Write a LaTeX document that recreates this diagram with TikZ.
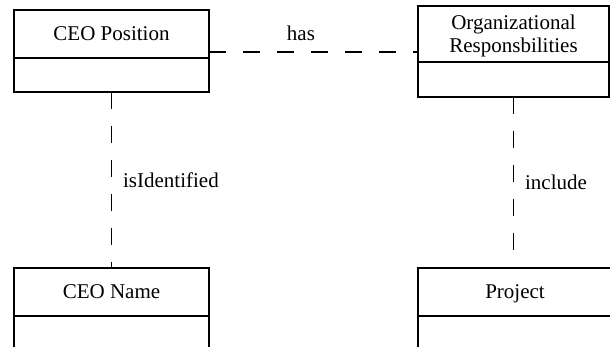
\documentclass[tikz,border=0pt]{standalone}
\usepackage{fontspec}
\setmainfont{Liberation Serif}
\usetikzlibrary{shapes,arrows,positioning}

\begin{document}
\begin{tikzpicture}[x=1pt, y=1pt, line width=1.2pt,
    font=\rmfamily\fontsize{21}{23}\selectfont,
    head/.style={draw, rectangle, minimum width=195pt, minimum height=48pt,
        inner sep=0pt, outer sep=0pt, text depth=0pt, align=center},
    body/.style={draw, rectangle, minimum width=195pt, inner sep=0pt, outer sep=0pt},
    link/.style={dash pattern=on 17pt off 17pt}]
    \useasboundingbox (0,0) rectangle (610,347);
    \clip (0,0) rectangle (610,347);
    \node[head] (A) at (111.5,313) {CEO Position};
    \node[body, minimum height=34pt] (A1) [below=0pt of A] {};
    \node[head, minimum width=191pt, minimum height=56pt] (B) at (513.5,313) {Organizational\\Responsbilities};
    \node[body, minimum width=191pt, minimum height=35pt] (B1) [below=0pt of B] {};
    \node[head] (C) at (111.5,55) {CEO Name};
    \node[body, minimum height=48pt] (C1) [below=0pt of C] {};
    \node[head, minimum width=194pt] (D) at (515,55) {Project};
    \node[body, minimum width=194pt, minimum height=48pt] (D1) [below=0pt of D] {};
    \coordinate (h) at ([yshift=-18pt]A.east);
    \path[link] (h) edge node[above=9pt, pos=0.44, inner sep=2pt] {has} (h -| B.west)
          (A1.south) edge node[right=9pt, inner sep=2pt] {isIdentified} (C.north)
          (B1.south) edge node[right=9pt, inner sep=2pt] {include} (B1.south |- D.north);
\end{tikzpicture}
\end{document}
